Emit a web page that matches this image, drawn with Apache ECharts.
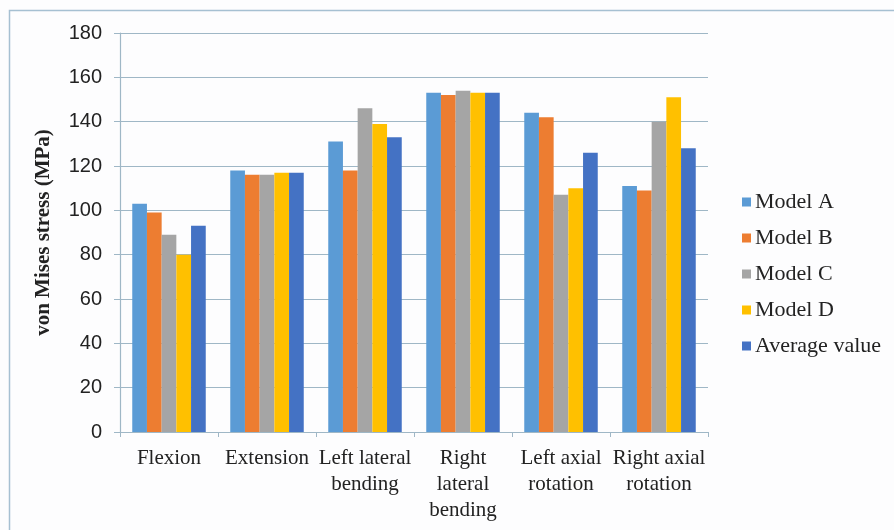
<!DOCTYPE html>
<html>
<head>
<meta charset="utf-8">
<script src="https://cdn.jsdelivr.net/npm/echarts@6/dist/echarts.min.js"></script>
<style>
  html, body { margin: 0; padding: 0; background: #fdfdfe; }
  #chart { width: 894px; height: 530px; }
</style>
</head>
<body>
<div id="chart"></div>
<script>
// Loading cases on the x axis
const categories = [
  'Flexion',
  'Extension',
  'Left lateral\nbending',
  'Right\nlateral\nbending',
  'Left axial\nrotation',
  'Right axial\nrotation'
];

// Peak von Mises stress (MPa) per model and loading case
const modelA = [103, 118, 131, 153, 144, 111];
const modelB = [99, 116, 118, 152, 142, 109];
const modelC = [89, 116, 146, 154, 107, 140];
const modelD = [80, 117, 139, 153, 110, 151];
const averageValue = [93, 117, 133, 153, 126, 128];

const seriesNames = ['Model A', 'Model B', 'Model C', 'Model D', 'Average value'];
const seriesValues = [modelA, modelB, modelC, modelD, averageValue];
const seriesColors = ['#5b9bd5', '#ed7d31', '#a5a5a5', '#ffc000', '#4472c4'];

const yTicks = { min: 0, max: 180, step: 20 };

const axisColor = '#9fb7c6';
const serif = '"Liberation Serif", "Times New Roman", serif';
const sans = '"Liberation Sans", Arial, sans-serif';

const chart = echarts.init(document.getElementById('chart'), null, { renderer: 'canvas' });

chart.setOption({
  backgroundColor: '#fdfdfe',
  animation: false,
  graphic: [{
    type: 'rect',
    shape: { x: 9.5, y: 10.5, width: 900, height: 540 },
    style: { fill: 'none', stroke: '#a6c0d2', lineWidth: 1.5 },
    silent: true
  }],
  grid: { left: 120, right: 186, top: 33, bottom: 98 },
  legend: {
    orient: 'vertical',
    left: 737,
    top: 186,
    icon: 'rect',
    itemWidth: 9,
    itemHeight: 9,
    itemGap: 14,
    data: seriesNames,
    textStyle: { fontFamily: serif, fontSize: 22, color: '#222', lineHeight: 22, padding: [0, 0, 0, -1] }
  },
  xAxis: {
    type: 'category',
    data: categories,
    axisLine: { lineStyle: { color: axisColor, width: 1.2 } },
    axisTick: { show: true, length: 5, lineStyle: { color: axisColor } },
    axisLabel: {
      interval: 0,
      margin: 13,
      fontFamily: serif,
      fontSize: 21,
      lineHeight: 26,
      color: '#222',
      align: 'center'
    }
  },
  yAxis: {
    type: 'value',
    min: yTicks.min,
    max: yTicks.max,
    interval: yTicks.step,
    name: 'von Mises stress (MPa)',
    nameLocation: 'middle',
    nameRotate: 90,
    nameGap: 66,
    nameTextStyle: { fontFamily: serif, fontSize: 21, fontWeight: 'bold', color: '#222' },
    axisLine: { show: true, lineStyle: { color: axisColor, width: 1.2 } },
    axisTick: { show: true, length: 6, lineStyle: { color: axisColor } },
    axisLabel: { fontFamily: sans, fontSize: 20, color: '#222', margin: 18 },
    splitLine: { show: true, lineStyle: { color: axisColor, width: 1.2 } }
  },
  series: seriesNames.map((name, i) => ({
    name: name,
    type: 'bar',
    data: seriesValues[i],
    barGap: '0%',
    barCategoryGap: '25%',
    itemStyle: { color: seriesColors[i] }
  }))
});
</script>
</body>
</html>
